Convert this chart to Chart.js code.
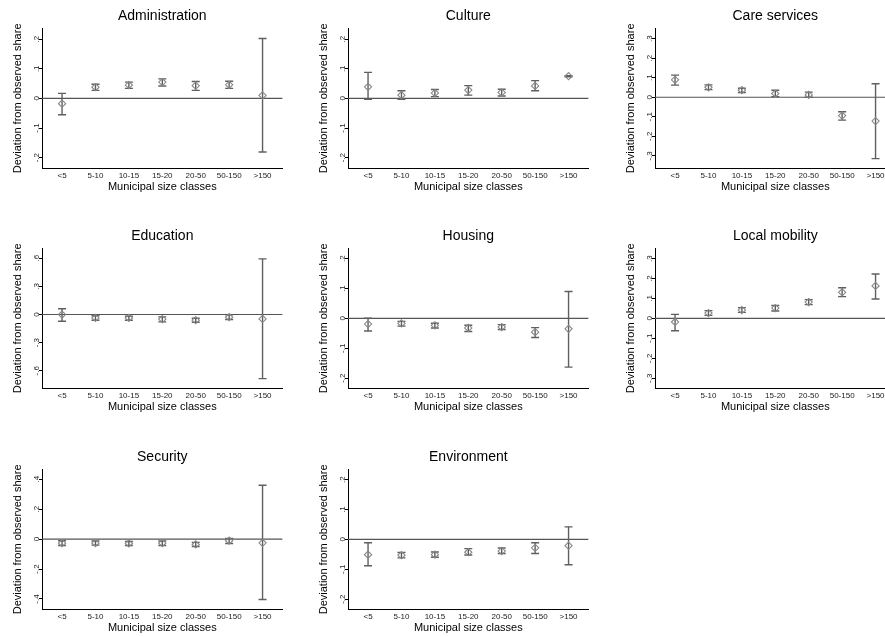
<!DOCTYPE html>
<html>
<head>
<meta charset="utf-8">
<script src="https://cdn.jsdelivr.net/npm/chart.js@4.4.1/dist/chart.umd.min.js"></script>
<style>
  body { margin: 0; background: #fff; }
  #wrap { position: relative; width: 885px; height: 637px; overflow: hidden; background: #fff; }
  #wrap canvas { position: absolute; }
</style>
</head>
<body>
<div id="wrap"></div>
<script>
const categories = ['<5', '5-10', '10-15', '15-20', '20-50', '50-150', '>150'];

// point estimates with lower / upper bounds, one set per policy field
const adminEst = [-0.018, 0.038, 0.045, 0.055, 0.043, 0.046, 0.010];
const adminLo  = [-0.055, 0.027, 0.034, 0.042, 0.027, 0.034, -0.181];
const adminHi  = [0.017, 0.048, 0.055, 0.066, 0.057, 0.058, 0.202];

const cultureEst = [0.039, 0.011, 0.018, 0.028, 0.020, 0.042, 0.075];
const cultureLo  = [-0.003, -0.003, 0.006, 0.011, 0.008, 0.026, 0.073];
const cultureHi  = [0.088, 0.026, 0.030, 0.043, 0.031, 0.060, 0.077];

const careEst = [0.089, 0.051, 0.036, 0.019, 0.012, -0.094, -0.122];
const careLo  = [0.062, 0.039, 0.024, 0.003, 0.000, -0.117, -0.314];
const careHi  = [0.113, 0.063, 0.046, 0.036, 0.026, -0.074, 0.069];

const eduEst = [0.000, -0.036, -0.036, -0.050, -0.061, -0.029, -0.047];
const eduLo  = [-0.072, -0.061, -0.061, -0.079, -0.083, -0.054, -0.683];
const eduHi  = [0.061, -0.014, -0.018, -0.025, -0.040, -0.004, 0.593];

const housingEst = [-0.019, -0.017, -0.023, -0.032, -0.029, -0.046, -0.035];
const housingLo  = [-0.042, -0.026, -0.032, -0.044, -0.037, -0.064, -0.163];
const housingHi  = [0.001, -0.010, -0.016, -0.023, -0.021, -0.031, 0.090];

const mobilityEst = [-0.018, 0.027, 0.042, 0.052, 0.082, 0.131, 0.163];
const mobilityLo  = [-0.062, 0.015, 0.030, 0.037, 0.069, 0.109, 0.097];
const mobilityHi  = [0.020, 0.039, 0.054, 0.065, 0.094, 0.154, 0.223];

const securityEst = [-0.027, -0.027, -0.029, -0.027, -0.036, -0.011, -0.025];
const securityLo  = [-0.043, -0.040, -0.043, -0.043, -0.049, -0.029, -0.404];
const securityHi  = [-0.011, -0.013, -0.016, -0.013, -0.022, 0.004, 0.360];

const envEst = [-0.051, -0.053, -0.051, -0.043, -0.039, -0.028, -0.021];
const envLo  = [-0.088, -0.062, -0.060, -0.052, -0.047, -0.047, -0.085];
const envHi  = [-0.011, -0.044, -0.042, -0.031, -0.029, -0.011, 0.042];

// y tick labels
const ticks2 = [-0.2, -0.1, 0, 0.1, 0.2];
const ticks3 = [-0.3, -0.2, -0.1, 0, 0.1, 0.2, 0.3];
const ticksEdu = [-0.6, -0.3, 0, 0.3, 0.6];
const ticksSec = [-0.4, -0.2, 0, 0.2, 0.4];

const panels = [
  {title: 'Administration', est: adminEst, lo: adminLo, hi: adminHi, ticks: ticks2, min: -0.235, max: 0.235},
  {title: 'Culture', est: cultureEst, lo: cultureLo, hi: cultureHi, ticks: ticks2, min: -0.235, max: 0.235},
  {title: 'Care services', est: careEst, lo: careLo, hi: careHi, ticks: ticks3, min: -0.362, max: 0.35},
  {title: 'Education', est: eduEst, lo: eduLo, hi: eduHi, ticks: ticksEdu, min: -0.783, max: 0.70},
  {title: 'Housing', est: housingEst, lo: housingLo, hi: housingHi, ticks: ticks2, min: -0.233, max: 0.233},
  {title: 'Local mobility', est: mobilityEst, lo: mobilityLo, hi: mobilityHi, ticks: ticks3, min: -0.349, max: 0.349},
  {title: 'Security', est: securityEst, lo: securityLo, hi: securityHi, ticks: ticksSec, min: -0.467, max: 0.463},
  {title: 'Environment', est: envEst, lo: envLo, hi: envHi, ticks: ticks2, min: -0.233, max: 0.233}
];

Chart.defaults.font.family = '"Liberation Sans", Arial, Helvetica, sans-serif';
Chart.defaults.color = '#000';

const colLeft = [0, 306, 613];
const rowTop = [0, 220, 441];
const xMin = 0.4, xMax = 7.6;

function fmt(v) {
  if (v === 0) return '0';
  return String(v).replace('0.', '.');
}

const wrap = document.getElementById('wrap');

panels.forEach((p, k) => {
  const canvas = document.createElement('canvas');
  canvas.width = 288;
  canvas.height = 195;
  canvas.style.left = colLeft[k % 3] + 'px';
  canvas.style.top = rowTop[Math.floor(k / 3)] + 'px';
  wrap.appendChild(canvas);

  const points = p.est.map((v, i) => ({x: i + 1, y: v}));
  const bars = [];
  p.lo.forEach((lo, i) => {
    bars.push({x: i + 1, y: lo}, {x: i + 1, y: p.hi[i]}, {x: i + 1.5, y: null});
  });

  new Chart(canvas, {
    type: 'scatter',
    data: {
      datasets: [
        {
          data: points,
          pointStyle: 'rectRot',
          pointRadius: 3.6,
          borderColor: '#888',
          backgroundColor: 'rgba(255,255,255,0)',
          borderWidth: 1.1
        },
        {
          data: bars,
          showLine: true,
          spanGaps: false,
          borderColor: '#5f5f5f',
          borderWidth: 1.4,
          pointStyle: 'line',
          pointRadius: 4,
          pointBorderColor: '#5f5f5f',
          pointBorderWidth: 1.4
        },
        {
          data: [{x: xMin, y: 0}, {x: xMax, y: 0}],
          showLine: true,
          borderColor: '#555',
          borderWidth: 1.2,
          pointRadius: 0
        }
      ]
    },
    options: {
      responsive: false,
      animation: false,
      events: [],
      layout: {padding: 0},
      plugins: {
        legend: {display: false},
        tooltip: {enabled: false},
        title: {
          display: true,
          text: p.title,
          fullSize: false,
          color: '#000',
          font: {size: 14, weight: 'normal'},
          padding: {top: 8, bottom: 4}
        }
      },
      scales: {
        x: {
          type: 'linear',
          min: xMin,
          max: xMax,
          afterBuildTicks: s => { s.ticks = categories.map((c, i) => ({value: i + 1})); },
          afterFit: s => { s.height = 27; },
          ticks: {
            autoSkip: false,
            maxRotation: 0,
            padding: 3,
            color: '#222',
            font: {size: 8},
            callback: v => categories[v - 1]
          },
          grid: {display: false, drawTicks: false},
          border: {color: '#000', width: 1},
          title: {
            display: true,
            text: 'Municipal size classes',
            color: '#000',
            font: {size: 11},
            padding: {top: 0, bottom: 1}
          }
        },
        y: {
          min: p.min,
          max: p.max,
          afterBuildTicks: s => { s.ticks = p.ticks.map(v => ({value: v})); },
          afterFit: s => { s.width = 42; },
          ticks: {
            minRotation: 90,
            maxRotation: 90,
            crossAlign: 'center',
            padding: -2,
            color: '#222',
            font: {size: 8},
            callback: v => fmt(v)
          },
          grid: {drawOnChartArea: false, drawTicks: true, tickLength: 3, color: '#000'},
          border: {color: '#000', width: 1},
          title: {
            display: true,
            text: 'Deviation from observed share',
            color: '#000',
            font: {size: 11},
            padding: {top: 11, bottom: 0}
          }
        }
      }
    }
  });
});
</script>
</body>
</html>
